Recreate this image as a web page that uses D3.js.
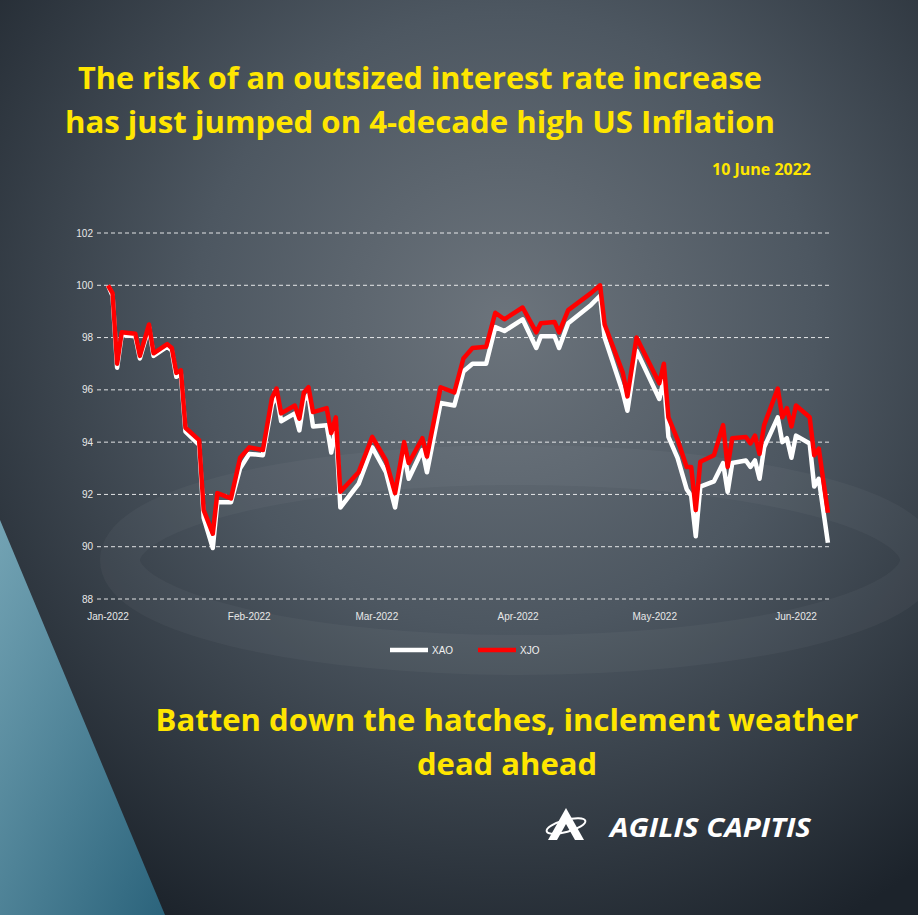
<!DOCTYPE html>
<html>
<head>
<meta charset="utf-8">
<script src="https://cdn.jsdelivr.net/npm/d3@7"></script>
<style>
  body { margin: 0; background: #2b3138; }
  svg { display: block; }
</style>
</head>
<body>
<svg id="chart" width="918" height="915"></svg>
<script>
// trading dates
const dates = ["2022-01-01","2022-01-02","2022-01-03","2022-01-04","2022-01-07","2022-01-08","2022-01-10","2022-01-11",
  "2022-01-14","2022-01-15","2022-01-16","2022-01-17","2022-01-18","2022-01-21","2022-01-22","2022-01-24","2022-01-25",
  "2022-01-28","2022-01-30","2022-02-01","2022-02-04","2022-02-06","2022-02-07","2022-02-08","2022-02-11","2022-02-12",
  "2022-02-13","2022-02-14","2022-02-15","2022-02-18","2022-02-19","2022-02-20","2022-02-21","2022-02-25","2022-02-28",
  "2022-03-03","2022-03-05","2022-03-07","2022-03-08","2022-03-11","2022-03-12","2022-03-15","2022-03-18","2022-03-20",
  "2022-03-22","2022-03-25","2022-03-27","2022-03-29","2022-04-02","2022-04-05","2022-04-06","2022-04-09","2022-04-10",
  "2022-04-12","2022-04-17","2022-04-19","2022-04-20","2022-04-24","2022-04-25","2022-04-27","2022-05-02","2022-05-03",
  "2022-05-04","2022-05-06","2022-05-08","2022-05-09","2022-05-10","2022-05-11","2022-05-14","2022-05-16","2022-05-17",
  "2022-05-18","2022-05-21","2022-05-22","2022-05-23","2022-05-24","2022-05-25","2022-05-28","2022-05-29","2022-05-30",
  "2022-05-31","2022-06-01","2022-06-04","2022-06-05","2022-06-06","2022-06-08"];

const xjo = [100, 99.7, 97.0, 98.2, 98.15, 97.3, 98.5, 97.4,
  97.75, 97.6, 96.65, 96.75, 94.55, 94.08, 91.4, 90.5, 92.05,
  91.85, 93.4, 93.8, 93.7, 95.7, 96.05, 95.1, 95.4, 94.9,
  95.9, 96.1, 95.15, 95.3, 94.35, 94.95, 92.1, 92.85, 94.2,
  93.3, 92.05, 94.0, 93.2, 94.15, 93.45, 96.1, 95.9, 97.2,
  97.6, 97.65, 98.95, 98.7, 99.15, 98.2, 98.55, 98.6, 98.2,
  99.05, 99.7, 100.0, 98.5, 96.65, 95.75, 98.0, 96.25, 97.0,
  94.95, 94.1, 93.05, 93.05, 91.4, 93.25, 93.5, 94.65, 93.05,
  94.15, 94.2, 93.95, 94.25, 93.55, 94.65, 96.05, 94.95, 95.3,
  94.6, 95.4, 94.95, 93.5, 93.75, 91.3];

const xao = [100, 99.6, 96.85, 98.1, 98.05, 97.2, 98.4, 97.3,
  97.65, 97.5, 96.5, 96.6, 94.4, 93.9, 91.1, 89.95, 91.7,
  91.7, 93.0, 93.55, 93.5, 95.45, 95.8, 94.8, 95.1, 94.45,
  95.6, 95.8, 94.6, 94.65, 93.6, 94.6, 91.5, 92.4, 93.8,
  92.85, 91.5, 93.55, 92.6, 93.7, 92.85, 95.5, 95.4, 96.7,
  97.0, 97.0, 98.4, 98.25, 98.7, 97.6, 98.05, 98.05, 97.6,
  98.55, 99.25, 99.6, 98.0, 95.9, 95.2, 97.5, 95.65, 96.4,
  94.2, 93.4, 92.2, 91.95, 90.4, 92.3, 92.5, 93.2, 92.1,
  93.2, 93.3, 93.05, 93.3, 92.6, 93.8, 94.95, 94.0, 94.15,
  93.4, 94.25, 93.95, 92.3, 92.6, 90.15];

const yTicks = [88, 90, 92, 94, 96, 98, 100, 102];
const monthTicks = ["2022-01-01","2022-02-01","2022-03-01","2022-04-01","2022-05-01","2022-06-01"];

const svg = d3.select("#chart");
const W = 918, H = 915;
const parse = d3.timeParse("%Y-%m-%d");

// background
const defs = svg.append("defs");
const bg = defs.append("radialGradient").attr("id", "bg").attr("cx", "55%").attr("cy", "35%").attr("r", "75%");
bg.append("stop").attr("offset", "0%").attr("stop-color", "#6c747c");
bg.append("stop").attr("offset", "45%").attr("stop-color", "#4d5761");
bg.append("stop").attr("offset", "100%").attr("stop-color", "#1c232b");
svg.append("rect").attr("width", W).attr("height", H).attr("fill", "url(#bg)");

const blue = defs.append("linearGradient").attr("id", "blue").attr("x1", "0").attr("y1", "0").attr("x2", "1").attr("y2", "1");
blue.append("stop").attr("offset", "0%").attr("stop-color", "#7fb6c8");
blue.append("stop").attr("offset", "100%").attr("stop-color", "#2e6f8a");
svg.append("path").attr("d", "M0,520 L165,915 L0,915 Z").attr("fill", "url(#blue)").attr("opacity", 0.85);

// faint decorative ellipse
svg.append("ellipse").attr("cx", 520).attr("cy", 560).attr("rx", 400).attr("ry", 95)
  .attr("fill", "none").attr("stroke", "#ffffff").attr("stroke-opacity", 0.035).attr("stroke-width", 40);

// titles
const yellow = "#ffe600";
const titleFont = "Open Sans, sans-serif";
svg.append("text").attr("x", 420).attr("y", 89).attr("text-anchor", "middle")
  .attr("font-family", titleFont).attr("font-weight", "bold").attr("font-size", 31)
  .attr("fill", yellow).attr("textLength", 684).attr("lengthAdjust", "spacingAndGlyphs")
  .text("The risk of an outsized interest rate increase");
svg.append("text").attr("x", 420).attr("y", 133).attr("text-anchor", "middle")
  .attr("font-family", titleFont).attr("font-weight", "bold").attr("font-size", 31)
  .attr("fill", yellow).attr("textLength", 710).attr("lengthAdjust", "spacingAndGlyphs")
  .text("has just jumped on 4-decade high US Inflation");
svg.append("text").attr("x", 811).attr("y", 175).attr("text-anchor", "end")
  .attr("font-family", titleFont).attr("font-weight", "bold").attr("font-size", 16)
  .attr("fill", yellow).text("10 June 2022");

// scales
const x = d3.scaleTime().domain([parse("2022-01-01"), parse("2022-06-01")]).range([108, 796]);
const y = d3.scaleLinear().domain([88, 102]).range([599, 233]);

// grid
svg.append("g").selectAll("line").data(yTicks).join("line")
  .attr("x1", 97).attr("x2", 832)
  .attr("y1", d => y(d)).attr("y2", d => y(d))
  .attr("stroke", "#ffffff").attr("stroke-opacity", 0.85).attr("stroke-dasharray", "4,3").attr("stroke-width", 1);

svg.append("g").selectAll("text").data(yTicks).join("text")
  .attr("x", 93).attr("y", d => y(d) + 3.5).attr("text-anchor", "end")
  .attr("font-family", "Liberation Sans, sans-serif").attr("font-size", 10).attr("fill", "#e8e8e8")
  .text(d => d);

const fmt = d3.timeFormat("%b-%Y");
svg.append("g").selectAll("text").data(monthTicks).join("text")
  .attr("x", d => x(parse(d))).attr("y", 620).attr("text-anchor", "middle")
  .attr("font-family", "Liberation Sans, sans-serif").attr("font-size", 10).attr("fill", "#e8e8e8")
  .text(d => fmt(parse(d)));

// lines
const line = d3.line().x((d, i) => x(parse(dates[i]))).y(d => y(d));
svg.append("path").datum(xao).attr("d", line).attr("fill", "none")
  .attr("stroke", "#ffffff").attr("stroke-width", 4.5).attr("stroke-linejoin", "round");
svg.append("path").datum(xjo).attr("d", line).attr("fill", "none")
  .attr("stroke", "#ff0000").attr("stroke-width", 4.5).attr("stroke-linejoin", "round");

// legend
const leg = [["XAO", "#ffffff", 390], ["XJO", "#ff0000", 478]];
leg.forEach(([name, col, lx]) => {
  svg.append("line").attr("x1", lx).attr("x2", lx + 38).attr("y1", 650).attr("y2", 650)
    .attr("stroke", col).attr("stroke-width", 4.5);
  svg.append("text").attr("x", lx + 42).attr("y", 654)
    .attr("font-family", "Liberation Sans, sans-serif").attr("font-size", 10).attr("fill", "#f0f0f0").text(name);
});

// bottom caption
svg.append("text").attr("x", 507).attr("y", 731).attr("text-anchor", "middle")
  .attr("font-family", titleFont).attr("font-weight", "bold").attr("font-size", 31)
  .attr("fill", yellow).attr("textLength", 703).attr("lengthAdjust", "spacingAndGlyphs")
  .text("Batten down the hatches, inclement weather");
svg.append("text").attr("x", 507).attr("y", 775).attr("text-anchor", "middle")
  .attr("font-family", titleFont).attr("font-weight", "bold").attr("font-size", 31)
  .attr("fill", yellow).text("dead ahead");

// logo
svg.append("path").attr("d", "M548,840 L566,808 L584,840 L575,840 L566,824 L557,840 Z").attr("fill", "#ffffff");
svg.append("ellipse").attr("cx", 566).attr("cy", 826).attr("rx", 20).attr("ry", 6)
  .attr("fill", "none").attr("stroke", "#ffffff").attr("stroke-width", 2).attr("transform", "rotate(-15,566,826)");
svg.append("text").attr("x", 610).attr("y", 837)
  .attr("font-family", titleFont).attr("font-weight", "bold").attr("font-style", "italic")
  .attr("font-size", 27).attr("fill", "#ffffff").attr("textLength", 201).attr("lengthAdjust", "spacingAndGlyphs")
  .text("AGILIS CAPITIS");
</script>
</body>
</html>
